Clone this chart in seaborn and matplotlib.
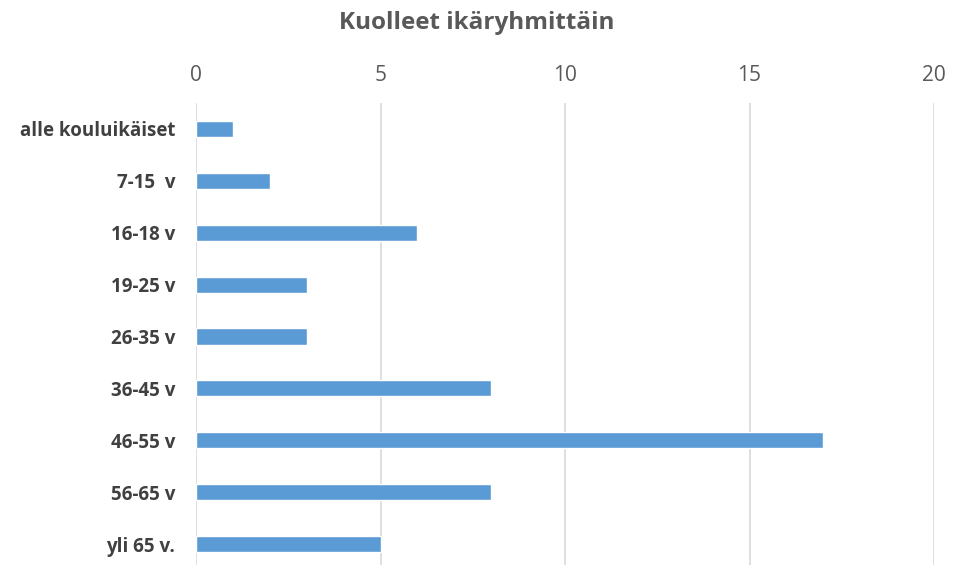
import matplotlib
matplotlib.use("Agg")
import matplotlib.pyplot as plt
import seaborn as sns
import pandas as pd

categories = ["alle kouluikäiset", "7-15  v", "16-18 v", "19-25 v", "26-35 v",
              "36-45 v", "46-55 v", "56-65 v", "yli 65 v."]
values = [1, 2, 6, 3, 3, 8, 17, 8, 5]
xticks = [0, 5, 10, 15, 20]
title = "Kuolleet ikäryhmittäin"

sns.set_theme(style="white")
plt.rcParams['font.family'] = ['Open Sans', 'DejaVu Sans']

df = pd.DataFrame({"cat": categories, "val": values})

fig = plt.figure(figsize=(9.61, 5.65), dpi=100)
ax = fig.add_axes([196/961, 1 - 570/565, (934-196)/961, (570-103)/565])

sns.barplot(data=df, y="cat", x="val", orient="h", color="#5B9BD5",
            width=0.31, saturation=1, ax=ax)

ax.set_xlim(0, 20)
ax.set_ylim(len(categories) - 0.5, -0.5)
ax.set_xticks(xticks)
ax.xaxis.tick_top()
ax.tick_params(axis="x", length=0, labelsize=15, labelcolor="#595959", pad=12)
ax.tick_params(axis="y", length=0, labelsize=13.5, labelcolor="#404040", pad=15)
for lbl in ax.get_yticklabels():
    lbl.set_fontweight("bold")
ax.set_xlabel("")
ax.set_ylabel("")
ax.grid(axis="x", color="#D9D9D9", linewidth=1.2)
ax.set_axisbelow(True)
for s in ax.spines.values():
    s.set_visible(False)

fig.text(477/961, 1 - 23/565, title, ha="center", va="center",
         fontsize=17.5, fontweight="bold", color="#595959")

fig.savefig("out.png", dpi=100)
